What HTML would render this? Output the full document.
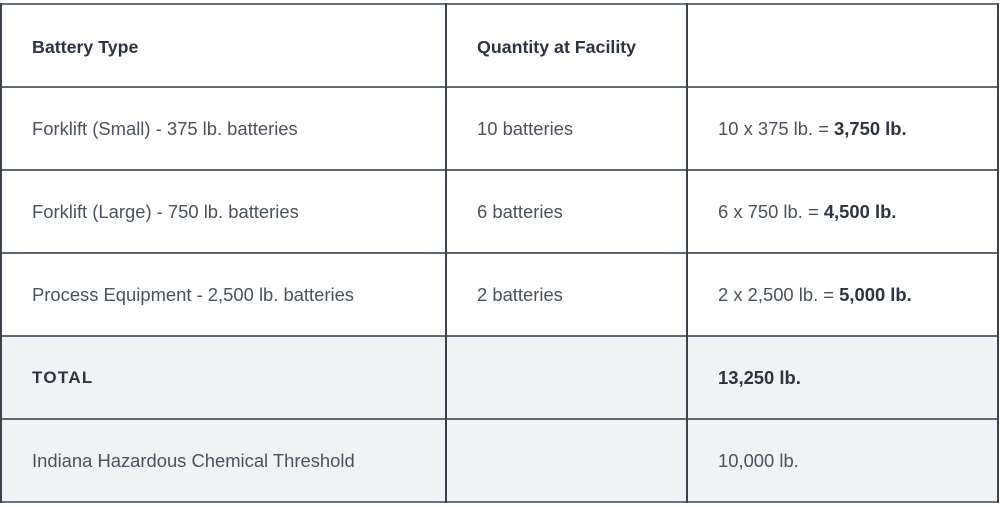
<!DOCTYPE html>
<html><head><meta charset="utf-8"><style>
html,body{margin:0;padding:0;background:#fff;}
body{width:1000px;height:507px;position:relative;overflow:hidden;font-family:"Liberation Sans",sans-serif;}
.sh{position:absolute;left:1px;width:997px;background:#f1f2f4;}
.h{position:absolute;left:0;width:999px;height:2px;background:#5f6773;}
.v{position:absolute;top:3px;width:2px;height:500px;background:#3a424e;}
.t{position:absolute;font-size:18.4px;color:#4a525d;white-space:nowrap;line-height:22px;}
.b{font-weight:bold;color:#2c3440;}
.hd{font-size:17.8px;}
.tot{letter-spacing:1.3px;font-size:17px;}
</style></head><body>
<div class="sh" style="top:336px;height:166px;"></div>
<div class="h" style="top:3px;background:#6a727e"></div>
<div class="h" style="top:86px"></div>
<div class="h" style="top:169px"></div>
<div class="h" style="top:252px"></div>
<div class="h" style="top:335px"></div>
<div class="h" style="top:418px"></div>
<div class="h" style="top:501px;background:#6a727e"></div>
<div class="v" style="left:0px"></div>
<div class="v" style="left:445px"></div>
<div class="v" style="left:686px"></div>
<div class="v" style="left:997px"></div>

<div class="t b hd" style="left:32px;top:36px">Battery Type</div>
<div class="t b hd" style="left:477px;top:36px">Quantity at Facility</div>

<div class="t" style="left:32px;top:118px">Forklift (Small) - 375 lb. batteries</div>
<div class="t" style="left:477px;top:118px">10 batteries</div>
<div class="t" style="left:718px;top:118px">10 x 375 lb. = <span class="b">3,750 lb.</span></div>

<div class="t" style="left:32px;top:201px">Forklift (Large) - 750 lb. batteries</div>
<div class="t" style="left:477px;top:201px">6 batteries</div>
<div class="t" style="left:718px;top:201px">6 x 750 lb. = <span class="b">4,500 lb.</span></div>

<div class="t" style="left:32px;top:284px">Process Equipment - 2,500 lb. batteries</div>
<div class="t" style="left:477px;top:284px">2 batteries</div>
<div class="t" style="left:718px;top:284px">2 x 2,500 lb. = <span class="b">5,000 lb.</span></div>

<div class="t b tot" style="left:32px;top:367px">TOTAL</div>
<div class="t b" style="left:718px;top:367px">13,250 lb.</div>

<div class="t" style="left:32px;top:450px">Indiana Hazardous Chemical Threshold</div>
<div class="t" style="left:718px;top:450px">10,000 lb.</div>
</body></html>
